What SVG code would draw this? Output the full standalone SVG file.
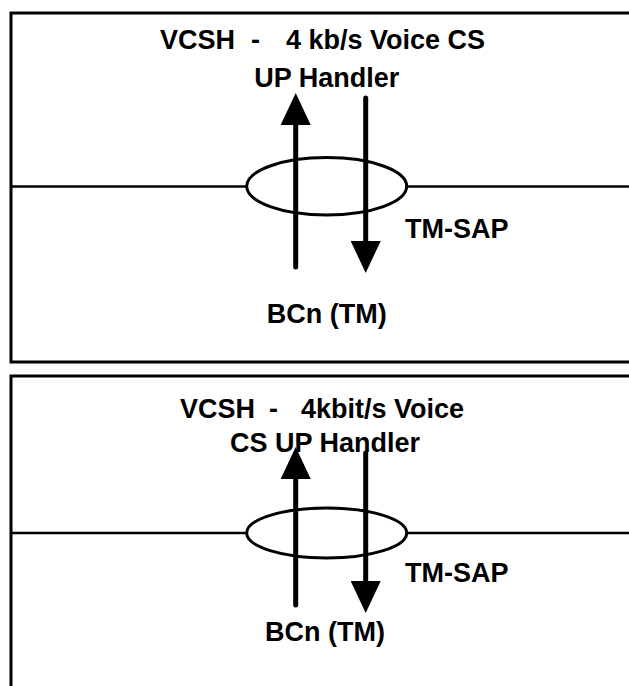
<svg xmlns="http://www.w3.org/2000/svg" width="629" height="686" viewBox="0 0 629 686">
  <style>
    .frame { fill: none; stroke: #000; stroke-width: 3; }
    .bus { fill: none; stroke: #000; stroke-width: 2.5; }
    .sap { fill: #fff; stroke: #000; stroke-width: 3; }
    .flow { fill: none; stroke: #000; stroke-width: 5; stroke-linecap: round; }
    .lbl { font-family: "Liberation Sans", Arial, sans-serif; font-weight: bold; font-size: 27px; fill: #000; }
    .mid { text-anchor: middle; }
  </style>
  <defs>
    <marker id="head" markerUnits="userSpaceOnUse" viewBox="0 0 32 30" markerWidth="32" markerHeight="30" refX="0" refY="15" orient="auto">
      <path d="M0,0 L32,15 L0,30 z" fill="#000"/>
    </marker>
  </defs>
  <rect width="629" height="686" fill="#fff"/>

  <g id="panel1">
    <path class="frame" d="M640 13 H11 V362 H640"/>
    <g id="handler1">
      <text class="lbl" y="49"><tspan x="160">VCSH</tspan><tspan x="251">-</tspan><tspan x="286">4 kb/s Voice CS</tspan></text>
      <text class="lbl mid" x="326.7" y="87">UP Handler</text>
    </g>
    <g id="bus1">
      <path class="bus" d="M11 186.5 H247 M406.5 186.5 H640"/>
    </g>
    <g id="sap1">
      <ellipse class="sap" cx="326.7" cy="186.3" rx="80" ry="28.7"/>
      <text class="lbl" x="405" y="238">TM-SAP</text>
    </g>
    <g id="bcn1">
      <text class="lbl mid" x="326.7" y="323">BCn (TM)</text>
    </g>
    <g id="connectors1">
      <path class="flow" d="M295.7 267 V125" marker-end="url(#head)"/>
      <path class="flow" d="M365.7 98 V241" marker-end="url(#head)"/>
    </g>
  </g>

  <g id="panel2">
    <path class="frame" d="M640 376 H11 V700"/>
    <g id="handler2">
      <text class="lbl" y="418"><tspan x="180">VCSH</tspan><tspan x="269">-</tspan><tspan x="301">4kbit/s Voice</tspan></text>
      <text class="lbl mid" x="325" y="452">CS UP Handler</text>
    </g>
    <g id="bus2">
      <path class="bus" d="M11 533 H247 M406.5 533 H640"/>
    </g>
    <g id="sap2">
      <ellipse class="sap" cx="326.7" cy="533" rx="80" ry="25"/>
      <text class="lbl" x="405" y="582">TM-SAP</text>
    </g>
    <g id="bcn2">
      <text class="lbl mid" x="325" y="641">BCn (TM)</text>
    </g>
    <g id="connectors2">
      <path class="flow" d="M295.7 605 V479" marker-end="url(#head)"/>
      <path class="flow" d="M365.7 453 V581" marker-end="url(#head)"/>
    </g>
  </g>
</svg>
